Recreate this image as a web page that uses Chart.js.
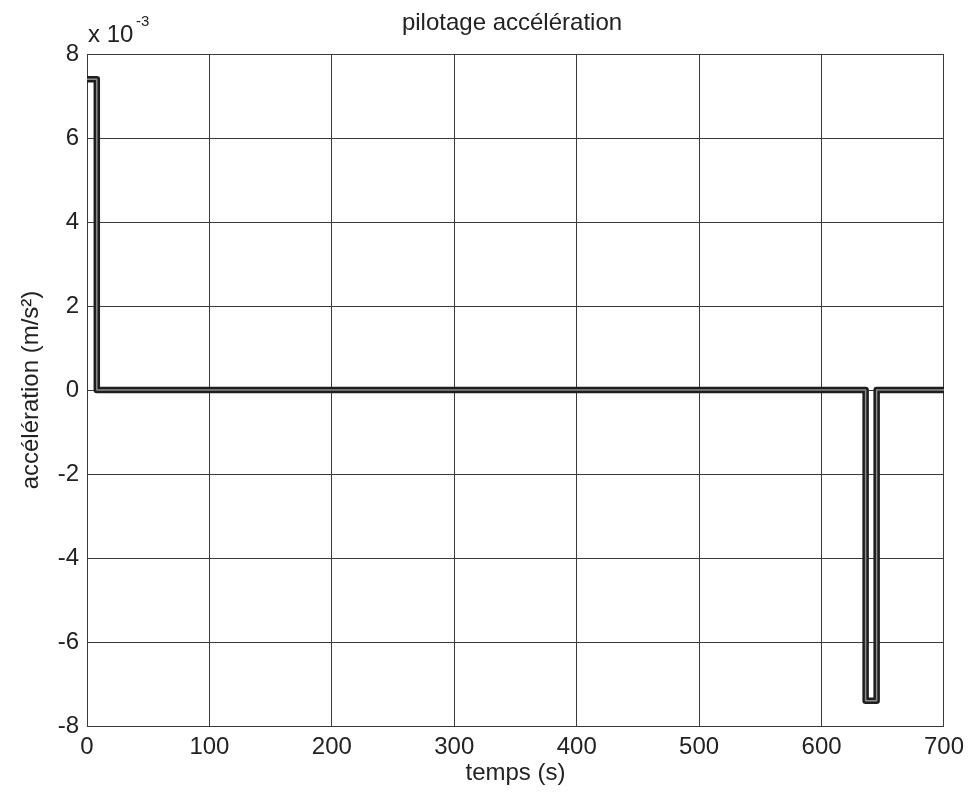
<!DOCTYPE html>
<html lang="fr">
<head>
<meta charset="UTF-8">
<title>pilotage accélération</title>
<script src="https://cdn.jsdelivr.net/npm/chart.js"></script>
<style>
  html, body { margin: 0; padding: 0; background: #fff; }
  #wrap { width: 971px; height: 794px; }
</style>
</head>
<body>
<div id="wrap"><canvas id="myChart" width="971" height="794"></canvas></div>
<script>
// temps (s) et accélération (m/s²)
const temps = [0, 8, 8, 636, 636, 645, 645, 700];
const acceleration = [0.0074, 0.0074, 0, 0, -0.0074, -0.0074, 0, 0];
const xTicks = [0, 100, 200, 300, 400, 500, 600, 700];
const yTicks = [-8, -6, -4, -2, 0, 2, 4, 6, 8]; // x 10^-3

const points = temps.map((t, i) => ({ x: t, y: acceleration[i] }));
const font = "'Liberation Sans', Arial, sans-serif";
const ink = '#222';

// titre + facteur "x 10^-3" dessinés à la main (style MATLAB)
const extraText = {
  id: 'extraText',
  afterDraw(chart) {
    const ctx = chart.ctx;
    ctx.save();
    ctx.fillStyle = ink;
    ctx.textBaseline = 'alphabetic';
    ctx.font = '24px ' + font;
    ctx.textAlign = 'center';
    ctx.fillText('pilotage accélération', 512, 30);
    ctx.textAlign = 'left';
    ctx.fillText('x 10', 88, 42);
    ctx.font = '15px ' + font;
    ctx.fillText('-3', 136, 26);
    ctx.restore();
  }
};

new Chart(document.getElementById('myChart'), {
  type: 'line',
  data: {
    datasets: [
      {
        // trait plus clair au centre (aspect scanné)
        data: points,
        borderColor: '#8c8c8c',
        borderWidth: 1.5,
        borderJoinStyle: 'round',
        pointRadius: 0,
        tension: 0,
        fill: false
      },
      {
        data: points,
        borderColor: '#1e1e1e',
        borderWidth: 6.5,
        borderJoinStyle: 'round',
        borderCapStyle: 'round',
        pointRadius: 0,
        tension: 0,
        fill: false
      }
    ]
  },
  options: {
    responsive: false,
    animation: false,
    layout: { padding: { top: 54, right: 26, left: 0, bottom: 0 } },
    plugins: {
      legend: { display: false },
      tooltip: { enabled: false }
    },
    scales: {
      x: {
        type: 'linear',
        min: 0,
        max: 700,
        afterFit: (s) => { s.height = 68; },
        afterBuildTicks: (s) => { s.ticks = xTicks.map(v => ({ value: v })); },
        ticks: { color: ink, font: { family: font, size: 24 }, padding: 7, maxRotation: 0 },
        grid: { color: '#3a3a3a', lineWidth: 1, drawTicks: false },
        border: { color: '#3a3a3a', width: 1 },
        title: { display: true, text: 'temps (s)', color: ink, font: { family: font, size: 24 }, padding: { top: 0, bottom: 6 } }
      },
      y: {
        min: -0.008,
        max: 0.008,
        afterFit: (s) => { s.width = 87; },
        afterBuildTicks: (s) => { s.ticks = yTicks.map(v => ({ value: v / 1000 })); },
        ticks: {
          color: ink,
          font: { family: font, size: 24 },
          padding: 8,
          callback: (v) => String(Math.round(v * 1000))
        },
        grid: { color: '#3a3a3a', lineWidth: 1, drawTicks: false },
        border: { color: '#3a3a3a', width: 1 },
        title: { display: true, text: 'accélération (m/s²)', color: ink, font: { family: font, size: 24 }, padding: { top: 17, bottom: 0 } }
      }
    }
  },
  plugins: [extraText]
});
</script>
</body>
</html>
